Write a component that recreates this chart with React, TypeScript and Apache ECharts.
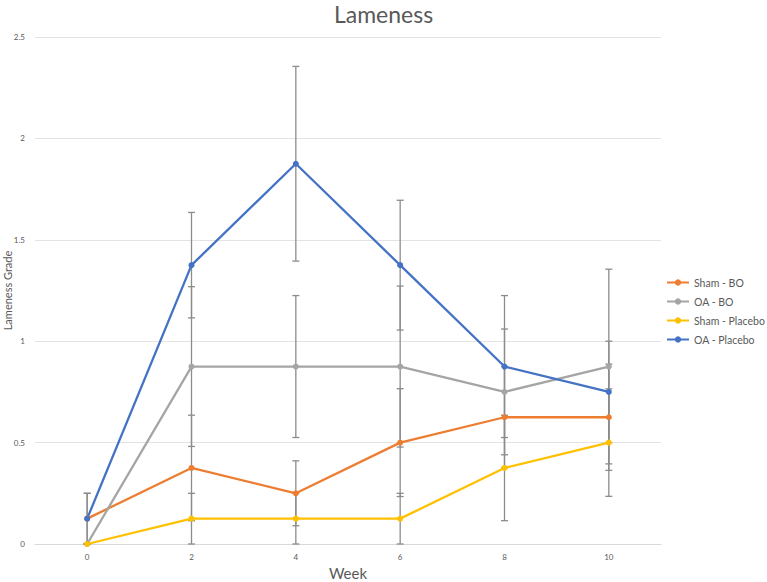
import React, { useEffect, useRef } from "react";
import * as echarts from "echarts";

const weeks = ["0", "2", "4", "6", "8", "10"];
const seriesNames = ["Sham - BO", "OA - BO", "Sham - Placebo", "OA - Placebo"];
const shamBO = [0.125, 0.375, 0.25, 0.5, 0.625, 0.625];
const oaBO = [0, 0.875, 0.875, 0.875, 0.75, 0.875];
const shamPlacebo = [0, 0.125, 0.125, 0.125, 0.375, 0.5];
const oaPlacebo = [0.125, 1.375, 1.875, 1.375, 0.875, 0.75];
const shamBOErr = [0.125, 0.26, 0.16, 0.266, 0.25, 0.262];
const oaBOErr = [0, 0.394, 0.35, 0.397, 0.31, 0.48];
const shamPlaceboErr = [0, 0.125, 0.125, 0.125, 0.26, 0.265];
const oaPlaceboErr = [0.125, 0.26, 0.48, 0.32, 0.35, 0.25];
const colors = ["#ED7D31", "#A5A5A5", "#FFC000", "#4472C4"];

const FONT = "Lato, 'Liberation Sans', sans-serif";

export default function App() {
  const ref = useRef<HTMLDivElement>(null);
  useEffect(() => {
    if (!ref.current) return;
    const chart = echarts.init(ref.current, undefined, { renderer: "svg" });
    const values = [shamBO, oaBO, shamPlacebo, oaPlacebo];
    const errs = [shamBOErr, oaBOErr, shamPlaceboErr, oaPlaceboErr];

    const errorSeries = values.map((vals, si) => ({
      type: "custom",
      name: seriesNames[si] + " err",
      z: 1,
      silent: true,
      data: vals.map((v, i) => [i, v - errs[si][i], v + errs[si][i]]),
      renderItem: (params: any, api: any) => {
        const x = api.value(0);
        const lo = api.coord([x, api.value(1)]);
        const hi = api.coord([x, api.value(2)]);
        const style = { stroke: "#8C8C8C", lineWidth: 1.3 };
        const c = 3.5;
        return {
          type: "group",
          children: [
            { type: "line", shape: { x1: lo[0], y1: lo[1], x2: hi[0], y2: hi[1] }, style },
            { type: "line", shape: { x1: hi[0] - c, y1: hi[1], x2: hi[0] + c, y2: hi[1] }, style },
            { type: "line", shape: { x1: lo[0] - c, y1: lo[1], x2: lo[0] + c, y2: lo[1] }, style },
          ],
        };
      },
    }));

    const lineSeries = values.map((vals, si) => ({
      type: "line",
      name: seriesNames[si],
      data: vals,
      z: 3,
      symbol: "circle",
      symbolSize: 6,
      color: colors[si],
      lineStyle: { width: 2.3, color: colors[si] },
      itemStyle: { color: colors[si] },
    }));

    chart.setOption({
      animation: false,
      textStyle: { fontFamily: FONT },
      title: {
        text: "Lameness",
        left: "center",
        top: 2,
        padding: 0,
        textStyle: { fontFamily: FONT, fontSize: 23, fontWeight: "normal", color: "#595959" },
      },
      legend: {
        orient: "vertical",
        left: 666,
        top: 277,
        padding: 0,
        itemWidth: 22,
        itemHeight: 8,
        itemGap: 8,
        data: seriesNames,
        textStyle: { fontFamily: FONT, fontSize: 10.5, color: "#595959", overflow: "none" },
      },
      grid: { left: 35, right: 106, top: 37, bottom: 38, containLabel: false, outerBoundsMode: "none" },
      xAxis: {
        type: "category",
        data: weeks,
        boundaryGap: true,
        name: "Week",
        nameLocation: "middle",
        nameGap: 21,
        nameMoveOverlap: false,
        nameTextStyle: { fontFamily: FONT, fontSize: 15, color: "#595959" },
        axisLine: { show: true, lineStyle: { color: "#D9D9D9" } },
        axisTick: { show: false },
        axisLabel: { fontSize: 8, color: "#595959", margin: 9 },
      },
      yAxis: {
        type: "value",
        min: 0,
        max: 2.5,
        interval: 0.5,
        name: "Lameness Grade",
        nameLocation: "middle",
        nameGap: 22,
        nameMoveOverlap: false,
        nameTextStyle: { fontFamily: FONT, fontSize: 11, color: "#595959" },
        axisLine: { show: false },
        axisTick: { show: false },
        axisLabel: { fontSize: 8, color: "#595959", margin: 10 },
        splitLine: { lineStyle: { color: "#E3E3E3", width: 1 } },
      },
      series: [...errorSeries, ...lineSeries],
    });
    return () => chart.dispose();
  }, []);
  return <div ref={ref} style={{ width: 767, height: 582, position: "absolute", left: 0, top: 0 }} />;
}
